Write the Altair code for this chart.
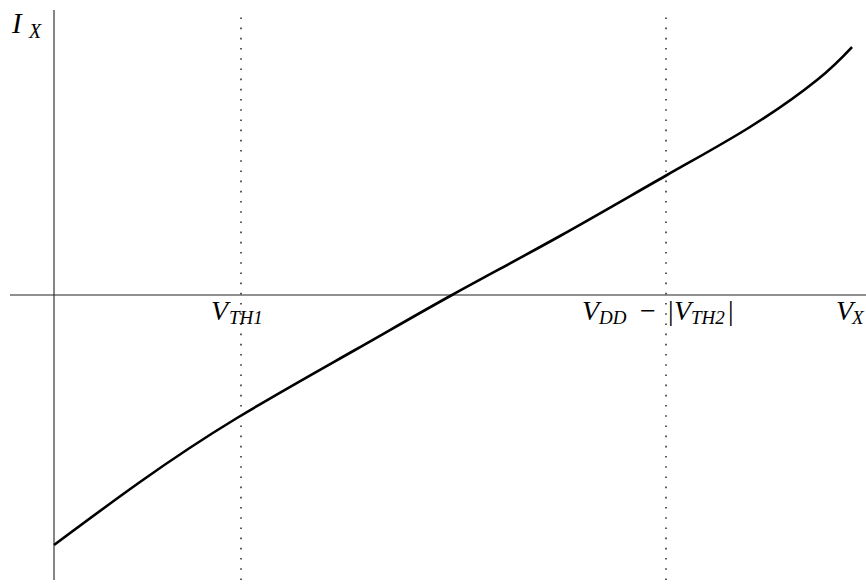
import altair as alt
import pandas as pd

# I_X versus V_X characteristic, sampled along the curve
vx = [0.00, 0.86, 1.83, 3.01, 3.98, 5.06, 6.13, 6.96, 7.63, 7.98]
ix = [-2.50, -1.87, -1.23, -0.55, 0.00, 0.59, 1.20, 1.68, 2.15, 2.48]

# threshold markers on the V_X axis
markers = [1.87, 6.12]

# text pieces: text, anchor (data units), font size, style
label_text = ["I", "X", "V", "TH1", "V", "DD", "\u2212", "|", "V", "TH2", "|", "V", "X"]
label_x = [-0.42, -0.25, 1.57, 1.75, 5.28, 5.45, 5.86, 6.14, 6.20, 6.37, 6.74, 7.82, 7.98]
label_y = [2.62, 2.57, -0.25, -0.29, -0.25, -0.29, -0.25, -0.25, -0.25, -0.29, -0.25, -0.25, -0.29]
label_size = [29, 20, 28, 19, 28, 19, 28, 28, 28, 19, 28, 28, 19]
label_style = ["italic", "italic", "italic", "italic", "italic", "italic", "normal",
               "normal", "italic", "italic", "normal", "italic", "italic"]

x_dom = [-0.54, 8.12]
y_dom = [-2.90, 2.95]
xs = alt.Scale(domain=x_dom, nice=False, zero=False)
ys = alt.Scale(domain=y_dom, nice=False, zero=False)

curve_df = pd.DataFrame({"V": vx, "I": ix})
marker_df = pd.DataFrame({"V": markers, "lo": -2.85, "hi": 2.85})
labels_df = pd.DataFrame({"t": label_text, "x": label_x, "y": label_y,
                          "s": label_size, "st": label_style})

vaxis = alt.Chart(pd.DataFrame({"x": [0.0], "lo": [-2.85], "hi": [2.85]})).mark_rule(
    color="#222222", strokeWidth=1.1
).encode(
    x=alt.X("x:Q", scale=xs, axis=None),
    y=alt.Y("lo:Q", scale=ys, axis=None),
    y2="hi:Q",
)

haxis = alt.Chart(pd.DataFrame({"y": [0.0], "lo": [-0.44], "hi": [8.12]})).mark_rule(
    color="#222222", strokeWidth=1.1
).encode(
    y=alt.Y("y:Q", scale=ys, axis=None),
    x=alt.X("lo:Q", scale=xs, axis=None),
    x2="hi:Q",
)

dotted = alt.Chart(marker_df).mark_rule(
    color="#333333", strokeWidth=1.6, strokeDash=[1.6, 8.6]
).encode(
    x=alt.X("V:Q", scale=xs, axis=None),
    y=alt.Y("lo:Q", scale=ys, axis=None),
    y2="hi:Q",
)

curve = alt.Chart(curve_df).mark_line(
    color="black", strokeWidth=2.6, interpolate="natural"
).encode(
    x=alt.X("V:Q", scale=xs, axis=None),
    y=alt.Y("I:Q", scale=ys, axis=None),
)


def text_layer(style):
    return alt.Chart(labels_df).transform_filter(
        alt.datum.st == style
    ).mark_text(
        font="Liberation Serif", fontStyle=style, align="left",
        baseline="alphabetic", color="black"
    ).encode(
        x=alt.X("x:Q", scale=xs, axis=None),
        y=alt.Y("y:Q", scale=ys, axis=None),
        text="t:N",
        size=alt.Size("s:Q", scale=None, legend=None),
    )


chart = alt.layer(
    haxis, vaxis, dotted, curve, text_layer("italic"), text_layer("normal")
).properties(
    width=866, height=585, padding=0, autosize="none", background="white"
).configure_view(stroke=None)

chart.save("out.html", embed_options={"renderer": "svg", "actions": False})
